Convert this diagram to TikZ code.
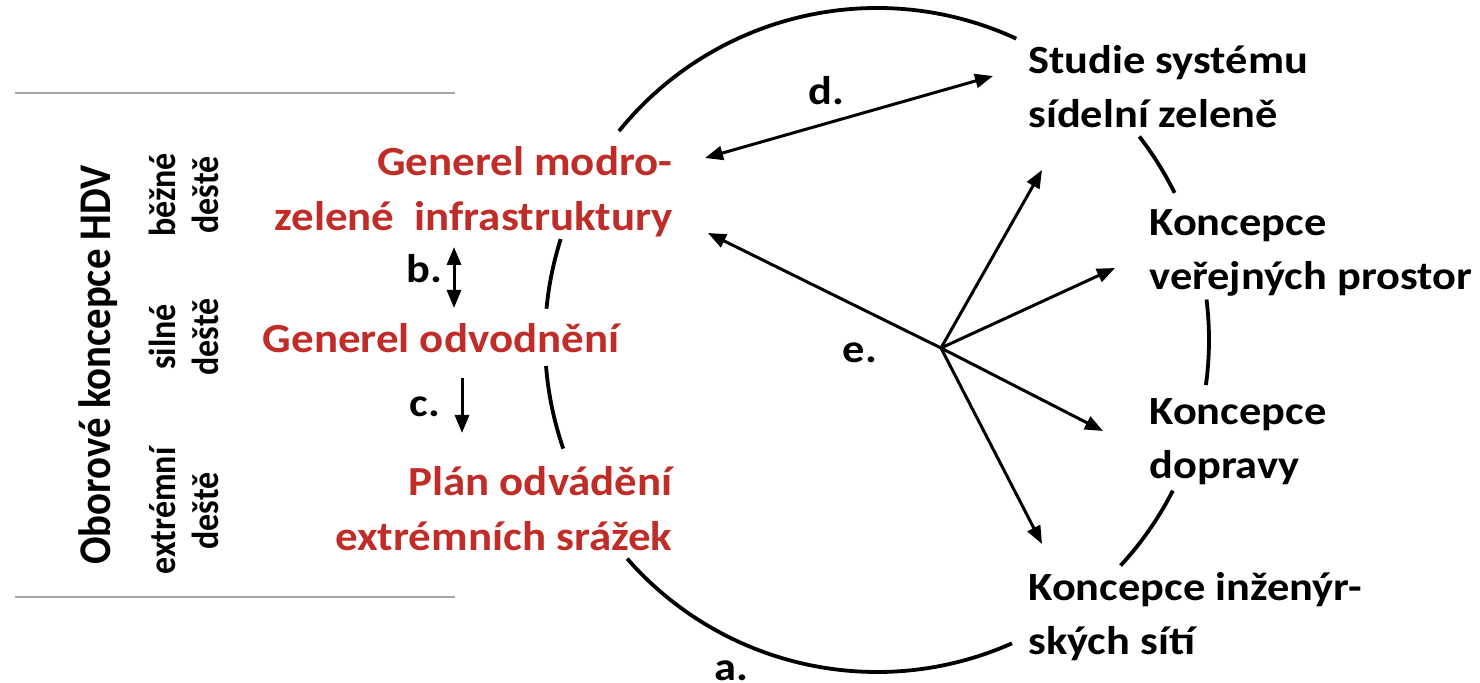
\documentclass[tikz,border=0pt]{standalone}
\usepackage{fontspec}
\setmainfont{Carlito}
\usetikzlibrary{arrows.meta}
\definecolor{redtxt}{RGB}{192,45,40}
\definecolor{rulegray}{RGB}{165,165,165}
\begin{document}
\begin{tikzpicture}[x=0.5pt,y=-0.5pt,
  blktext/.style={font=\fontsize{20}{27}\selectfont\bfseries, inner sep=0pt, text=black, xscale=1.11},
  redtext/.style={font=\fontsize{20.7}{27.5}\selectfont\bfseries, inner sep=0pt, text=redtxt, xscale=1.085},
  rottext/.style={font=\fontsize{20.4}{25}\selectfont\bfseries, inner sep=0pt, xscale=1.11, rotate=90, anchor=base},
  raintext/.style={font=\fontsize{17}{19}\selectfont\bfseries, inner sep=0pt, xscale=1.11, rotate=90, anchor=base, align=center},
  lbl/.style={font=\fontsize{20}{24}\selectfont\bfseries, inner sep=0pt, anchor=base, xscale=1.11},
  arr/.style={line width=1.5pt, -{Triangle[length=9pt,width=7pt]}},
  darr/.style={line width=1.5pt, {Triangle[length=9pt,width=7pt]}-{Triangle[length=9pt,width=7pt]}},
  ring/.style={line width=1.9pt},
  rule/.style={line width=1pt, draw=rulegray}]
\useasboundingbox (0,0) rectangle (1480,683);

% left rules
\coordinate (r1a) at (15,93);  \coordinate (r1b) at (455,93);
\coordinate (r2a) at (15,597); \coordinate (r2b) at (455,597);
\draw[rule] (r1a) -- (r1b);
\draw[rule] (r2a) -- (r2b);

% rotated texts
\node[rottext] (obor) at (111,365) {Oborové koncepce HDV};
\node[raintext] (bez) at (218,195) {běžné\\deště};
\node[raintext] (sil) at (218,337) {silné\\deště};
\node[raintext] (ext) at (218,511) {extrémní\\deště};

% red nodes
\node[redtext, anchor=base east, align=right] (gmz) at (673,231) {Generel modro-\\zelené\ \ infrastruktury};
\node[redtext, anchor=base] (godv) at (441,353) {Generel odvodnění};
\node[redtext, anchor=base east, align=right] (plan) at (673,551) {Plán odvádění\\extrémních srážek};

% black nodes
\node[blktext, anchor=base west, align=left] (studie) at (1028,128) {Studie systému\\sídelní zeleně};
\node[blktext, anchor=base west, align=left] (verej) at (1149,290) {Koncepce\\veřejných prostor};
\node[blktext, anchor=base west, align=left] (dopr) at (1149,479) {Koncepce\\dopravy};
\node[blktext, anchor=base west, align=left] (inz) at (1028,655) {Koncepce inženýr-\\ských sítí};

% labels
\node[lbl] (la) at (731,681) {a.};
\node[lbl] (lb) at (424,283) {b.};
\node[lbl] (lc) at (425,417) {c.};
\node[lbl] (ld) at (826,105) {d.};
\node[lbl] (le) at (860,363) {e.};

% ring arcs
\coordinate (ctr) at (877,340);
\begin{scope}[shift={(ctr)}, x=0.5pt, y=0.5pt]
  \draw[ring] (65.2:332) arc[start angle=65.2, end angle=141, radius=332];
  \draw[ring] (162.3:332) arc[start angle=162.3, end angle=174.6, radius=332];
  \draw[ring] (184.5:332) arc[start angle=184.5, end angle=199.1, radius=332];
  \draw[ring] (221.2:332) arc[start angle=221.2, end angle=294, radius=332];
  \draw[ring] (317.2:332) arc[start angle=317.2, end angle=333, radius=332];
  \draw[ring] (-7.8:332) arc[start angle=-7.8, end angle=7, radius=332];
  \draw[ring] (26.3:332) arc[start angle=26.3, end angle=37.8, radius=332];
\end{scope}

% arrows
\coordinate (dA) at (705,158); \coordinate (dB) at (993,76);
\draw[darr] (dA) -- (dB);
\coordinate (bA) at (454,247); \coordinate (bB) at (454,308);
\draw[darr] (bA) -- (bB);
\coordinate (cA) at (462,378); \coordinate (cB) at (462,433);
\draw[arr] (cA) -- (cB);
\coordinate (hub) at (941,348);
\coordinate (tG) at (708,233);
\coordinate (tS) at (1042,170);
\coordinate (tV) at (1115,268);
\coordinate (tD) at (1103,431);
\coordinate (tI) at (1042,544);
\draw[arr] (hub) -- (tG);
\draw[arr] (hub) -- (tS);
\draw[arr] (hub) -- (tV);
\draw[arr] (hub) -- (tD);
\draw[arr] (hub) -- (tI);
\end{tikzpicture}
\end{document}
